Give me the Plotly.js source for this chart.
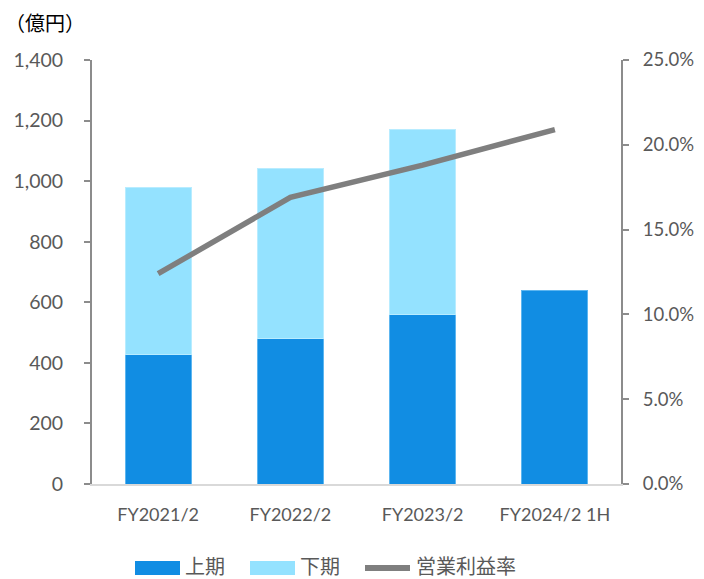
<!DOCTYPE html>
<html><head><meta charset="utf-8">
<script src="https://cdn.plot.ly/plotly-3.0.1.min.js"></script>
<style>html,body{margin:0;padding:0;background:#fff}#c{width:704px;height:579px}</style>
</head><body><div id="c"></div>
<script>
const categories = ['FY2021/2','FY2022/2','FY2023/2','FY2024/2 1H'];
const firstHalf = [428, 481, 559, 639];
const secondHalf = [551, 562, 612, null];
const opMargin = [0.124, 0.169, 0.188, 0.209];
const leftTicks = [0,200,400,600,800,1000,1200,1400];
const rightTicks = [0,0.05,0.10,0.15,0.20,0.25];

const textColor = '#595959';
const font = 'Lato, "Noto Sans CJK JP", sans-serif';
const jpFont = '"Noto Sans CJK JP", sans-serif';

const W=704,H=579, L=92, R=621, T=60, B=484;
const px = x => (x-L)/(R-L);
const py = y => (B-y)/(B-T);

const traces = [
 {type:'bar', x:categories, y:firstHalf, name:'上期', marker:{color:'#118DE3', line:{color:'#5DB6F0', width:1}}, showlegend:false},
 {type:'bar', x:categories, y:secondHalf, name:'下期', marker:{color:'#94E2FF', line:{color:'#B8ECFF', width:1}}, showlegend:false},
 {type:'scatter', mode:'lines', x:categories, y:opMargin, yaxis:'y2', name:'営業利益率', line:{color:'#7F7F7F', width:5.5}, showlegend:false}
];

const shapes = [
 {type:'rect', xref:'paper', yref:'paper', x0:px(135), x1:px(180), y0:py(561), y1:py(575), fillcolor:'#118DE3', line:{width:0}},
 {type:'rect', xref:'paper', yref:'paper', x0:px(250), x1:px(295), y0:py(561), y1:py(575), fillcolor:'#94E2FF', line:{width:0}},
 {type:'line', xref:'paper', yref:'paper', x0:px(365), x1:px(410), y0:py(568), y1:py(568), line:{color:'#7F7F7F', width:6}}
];
const annotations = [
 {text:'（億円）', xref:'paper', yref:'paper', x:px(4), y:py(22), xanchor:'left', yanchor:'middle', showarrow:false, borderpad:0, font:{family:jpFont, size:20, color:'#000'}},
 {text:'上期', xref:'paper', yref:'paper', x:px(184), y:py(565), xanchor:'left', yanchor:'middle', showarrow:false, borderpad:0, font:{family:jpFont, size:20, color:textColor}},
 {text:'下期', xref:'paper', yref:'paper', x:px(299), y:py(565), xanchor:'left', yanchor:'middle', showarrow:false, borderpad:0, font:{family:jpFont, size:20, color:textColor}},
 {text:'営業利益率', xref:'paper', yref:'paper', x:px(415), y:py(565), xanchor:'left', yanchor:'middle', showarrow:false, borderpad:0, font:{family:jpFont, size:20, color:textColor}}
];

const layout = {
 width:W, height:H, margin:{l:L, r:W-R, t:T, b:H-B},
 paper_bgcolor:'#fff', plot_bgcolor:'#fff',
 barmode:'stack', bargap:0.5,
 font:{family:font, color:textColor, size:17},
 xaxis:{showgrid:false, showline:true, linecolor:'#D9D9D9', linewidth:2, ticks:'', tickfont:{size:18, color:textColor}, ticklabelstandoff:13},
 yaxis:{range:[0,1400], tickvals:leftTicks, tickformat:',d', showgrid:false, showline:true, linecolor:'#8C8C8C', linewidth:2, ticks:'outside', ticklen:6, tickcolor:'#8C8C8C', tickwidth:2, tickfont:{size:19.5, color:textColor}, ticklabelstandoff:17, zeroline:false},
 yaxis2:{overlaying:'y', side:'right', range:[0,0.25], tickvals:rightTicks, tickformat:'.1%', showgrid:false, showline:true, linecolor:'#8C8C8C', linewidth:2, ticks:'outside', ticklen:6, tickcolor:'#8C8C8C', tickwidth:2, tickfont:{size:18.5, color:textColor}, ticklabelstandoff:10, zeroline:false},
 shapes:shapes, annotations:annotations, showlegend:false
};
Plotly.newPlot('c', traces, layout, {staticPlot:true});
</script></body></html>
